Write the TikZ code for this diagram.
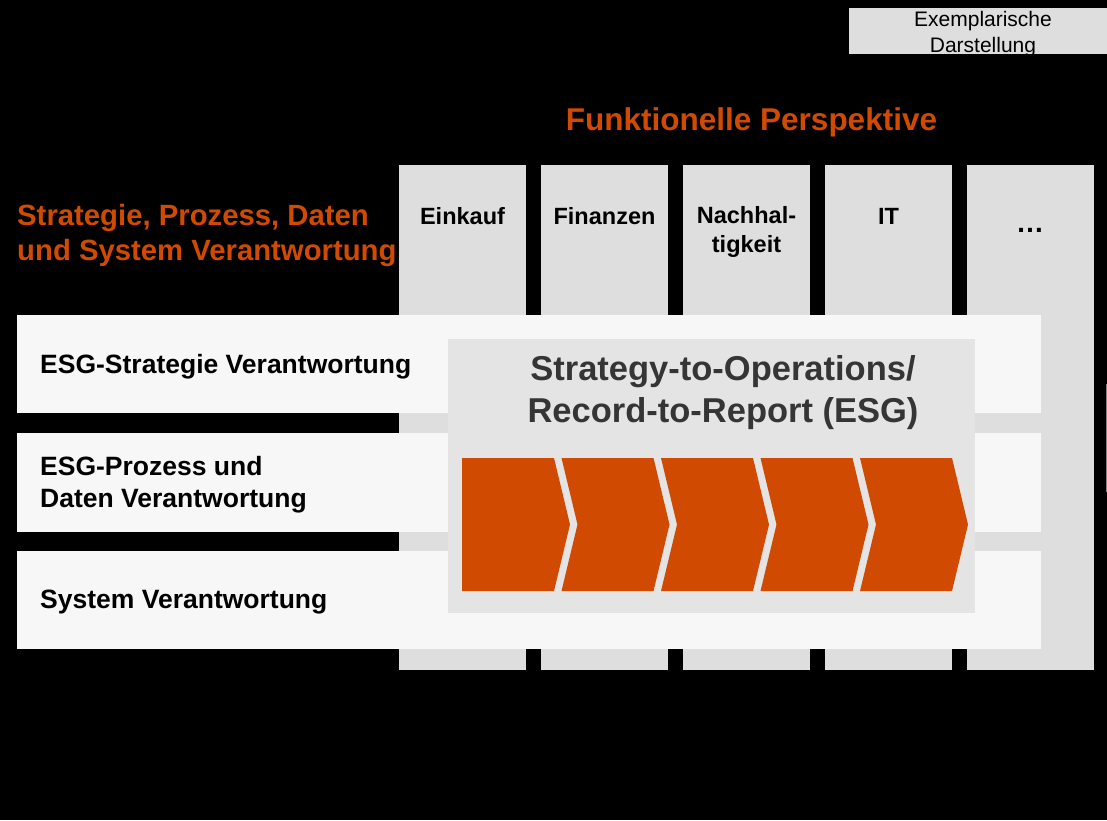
\documentclass[tikz,border=0pt]{standalone}
\usepackage{fontspec}
\setmainfont{Liberation Sans}
\usepackage{tikz}
\definecolor{pwcorange}{HTML}{D04A02}
\definecolor{rowgrey}{HTML}{F7F7F7}
\definecolor{colgrey}{HTML}{DEDEDE}
\definecolor{boxgrey}{HTML}{E4E4E4}
\definecolor{titlegrey}{HTML}{353535}
\def\chevron(#1){\fill[pwcorange] (#1, 458) -- ({#1+92}, 458) -- ({#1+108}, 524.5) -- ({#1+92}, 591) -- (#1, 591) -- ({#1+16}, 524.5) -- cycle;}

\begin{document}
\begin{tikzpicture}[x=1pt, y=-1pt,
		headtext/.style={font=\bfseries\fontsize{29.3}{35}\selectfont, text=pwcorange, inner sep=0pt},
		coltext/.style={font=\bfseries\fontsize{23.5}{29}\selectfont, align=center, inner sep=0pt, anchor=base},
		rowtext/.style={font=\bfseries\fontsize{26.5}{32}\selectfont, align=left, inner sep=0pt, anchor=base west}]
		%%%%% START %%%%%
		
		\useasboundingbox (0, 0) rectangle (1107, 820);
		\fill[black] (0, 0) rectangle (1107, 820);
		
		\fill[colgrey] (849, 8) rectangle (1120, 54);
		\node[font=\fontsize{21}{26}\selectfont, align=center, inner sep=0pt, anchor=base] (exempl) at (983, 52) {Exemplarische\\Darstellung};
		\fill[gray] (1106, 384) rectangle (1108, 492);
		
		\node[headtext, font=\bfseries\fontsize{31.5}{36}\selectfont, anchor=base] (funcHead) at (751.5, 130) {Funktionelle Perspektive};
		\node[headtext, align=left, anchor=base west] (respHead) at (17, 260) {Strategie, Prozess, Daten\\und System Verantwortung};
		
		% columns
		\fill[colgrey] (399, 165) rectangle (526, 670);
		\fill[colgrey] (541, 165) rectangle (668, 670);
		\fill[colgrey] (683, 165) rectangle (810, 670);
		\fill[colgrey] (825, 165) rectangle (952, 670);
		\fill[colgrey] (967, 165) rectangle (1094, 670);
		\node[coltext] (colBuy) at (462.5, 224) {Einkauf};
		\node[coltext] (colFin) at (604.5, 224) {Finanzen};
		\node[coltext] (colSus) at (746.5, 252) {Nachhal-\\tigkeit};
		\node[coltext] (colIT) at (888.5, 224) {IT};
		\node[coltext, font=\bfseries\fontsize{28}{30}\selectfont] (colMore) at (1030, 232) {\ldots};
		
		% rows
		\fill[rowgrey] (17, 315) rectangle (1041, 413);
		\fill[rowgrey] (17, 433) rectangle (1041, 532);
		\fill[rowgrey] (17, 551) rectangle (1041, 649);
		\node[rowtext] (rowStrat) at (40, 373) {ESG-Strategie Verantwortung};
		\node[rowtext] (rowProc) at (40, 507) {ESG-Prozess und\\Daten Verantwortung};
		\node[rowtext] (rowSys) at (40, 608) {System Verantwortung};
		
		% process box
		\fill[boxgrey] (448, 339) rectangle (975, 613);
		\node[font=\bfseries\fontsize{34.5}{42}\selectfont, text=titlegrey, align=center, inner sep=0pt, anchor=base] (procTitle) at (723, 422) {Strategy-to-Operations/\\Record-to-Report (ESG)};
		
		\fill[pwcorange] (462, 458) -- (554, 458) -- (570, 524.5) -- (554, 591) -- (462, 591) -- cycle;
		\chevron(561.5)
		\chevron(661)
		\chevron(760.5)
		\chevron(860)
		
		%%%%% END %%%%%
\end{tikzpicture}
\end{document}
